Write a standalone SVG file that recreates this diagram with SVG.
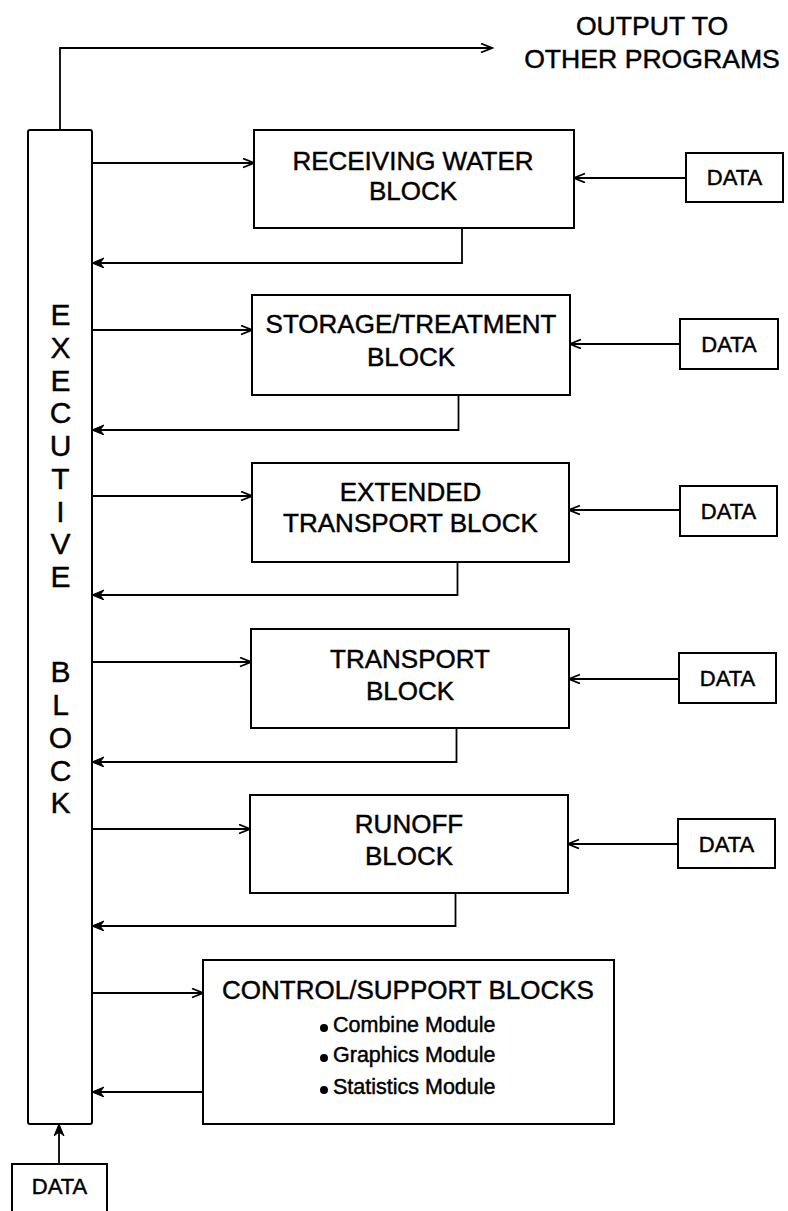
<svg xmlns="http://www.w3.org/2000/svg" width="788" height="1211" viewBox="0 0 788 1211">
<style>
  .box { fill: #fff; stroke: #000; stroke-width: 2; }
  .ln { fill: none; stroke: #000; stroke-width: 1.8; }
  .lbl { font-family: "Liberation Sans", Arial, sans-serif; font-size: 26px; fill: #000; stroke: #000; stroke-width: 0.45; text-anchor: middle; }
  .dat { font-family: "Liberation Sans", Arial, sans-serif; font-size: 22px; fill: #000; stroke: #000; stroke-width: 0.45; text-anchor: middle; }
  .ex { font-family: "Liberation Sans", Arial, sans-serif; font-size: 30px; fill: #000; stroke: #000; stroke-width: 0.4; text-anchor: middle; }
  .mod { font-family: "Liberation Sans", Arial, sans-serif; font-size: 21.5px; fill: #000; stroke: #000; stroke-width: 0.45; }
  .out { font-family: "Liberation Sans", Arial, sans-serif; font-size: 26.6px; fill: #000; stroke: #000; stroke-width: 0.45; text-anchor: middle; }
  .dot { fill: #000; }
</style>
<defs>
  <marker id="open" markerUnits="userSpaceOnUse" markerWidth="14" markerHeight="12" refX="12" refY="5" orient="auto">
    <path d="M1,0.5 L12,5 L1,9.5" fill="none" stroke="#000" stroke-width="1.8"/>
  </marker>
  <marker id="solid" markerUnits="userSpaceOnUse" markerWidth="14" markerHeight="12" refX="12" refY="5" orient="auto">
    <path d="M0,0 L12,5 L0,10 L4,5 Z" fill="#000" stroke="#000" stroke-width="1"/>
  </marker>
</defs>

<g id="connectors">
  <path class="ln" d="M60,130 L60,48 L492,48" marker-end="url(#open)"/>
  <path class="ln" d="M92,163 L254,163" marker-end="url(#open)"/>
  <path class="ln" d="M686,178 L574,178" marker-end="url(#open)"/>
  <path class="ln" d="M462,228 L462,263 L92,263" marker-end="url(#solid)"/>
  <path class="ln" d="M92,330 L252,330" marker-end="url(#open)"/>
  <path class="ln" d="M680,344 L570,344" marker-end="url(#open)"/>
  <path class="ln" d="M458.5,395 L458.5,430 L92,430" marker-end="url(#solid)"/>
  <path class="ln" d="M92,496 L252,496" marker-end="url(#open)"/>
  <path class="ln" d="M680,510 L569,510" marker-end="url(#open)"/>
  <path class="ln" d="M457.5,562 L457.5,595 L92,595" marker-end="url(#solid)"/>
  <path class="ln" d="M92,662 L251,662" marker-end="url(#open)"/>
  <path class="ln" d="M679,679 L569,679" marker-end="url(#open)"/>
  <path class="ln" d="M456.5,728 L456.5,762 L92,762" marker-end="url(#solid)"/>
  <path class="ln" d="M92,829 L250,829" marker-end="url(#open)"/>
  <path class="ln" d="M678,844 L568,844" marker-end="url(#open)"/>
  <path class="ln" d="M455.5,893 L455.5,926 L92,926" marker-end="url(#solid)"/>
  <path class="ln" d="M92,993 L203,993" marker-end="url(#open)"/>
  <path class="ln" d="M203,1092 L92,1092" marker-end="url(#solid)"/>
  <path class="ln" d="M59,1164 L59,1124" marker-end="url(#solid)"/>
</g>

<g id="output-label">
  <text class="out" x="652" y="35">OUTPUT TO</text>
  <text class="out" x="652" y="68">OTHER PROGRAMS</text>
</g>

<g id="executive">
  <rect class="box" x="28" y="130" width="64" height="994" rx="2"/>
  <text class="ex" x="60.5" y="325">E</text>
  <text class="ex" x="60.5" y="358">X</text>
  <text class="ex" x="60.5" y="390.5">E</text>
  <text class="ex" x="60.5" y="423">C</text>
  <text class="ex" x="60.5" y="456">U</text>
  <text class="ex" x="60.5" y="488.5">T</text>
  <text class="ex" x="60.5" y="521.5">I</text>
  <text class="ex" x="60.5" y="554">V</text>
  <text class="ex" x="60.5" y="587">E</text>
  <text class="ex" x="60.5" y="682">B</text>
  <text class="ex" x="60.5" y="715">L</text>
  <text class="ex" x="60.5" y="748">O</text>
  <text class="ex" x="60.5" y="780.5">C</text>
  <text class="ex" x="60.5" y="813">K</text>
</g>

<g id="receiving">
  <rect class="box" x="254" y="130" width="320" height="98"/>
  <text class="lbl" x="413" y="170">RECEIVING WATER</text>
  <text class="lbl" x="413" y="200">BLOCK</text>
</g>
<g id="data1">
  <rect class="box" x="686" y="153" width="97" height="49"/>
  <text class="dat" x="734.5" y="185">DATA</text>
</g>

<g id="storage">
  <rect class="box" x="252" y="295" width="318" height="100"/>
  <text class="lbl" x="411" y="333">STORAGE/TREATMENT</text>
  <text class="lbl" x="411" y="366">BLOCK</text>
</g>
<g id="data2">
  <rect class="box" x="680" y="319" width="98" height="50"/>
  <text class="dat" x="729" y="352">DATA</text>
</g>

<g id="extended">
  <rect class="box" x="252" y="463" width="317" height="99"/>
  <text class="lbl" x="410.5" y="501">EXTENDED</text>
  <text class="lbl" x="410.5" y="532">TRANSPORT BLOCK</text>
</g>
<g id="data3">
  <rect class="box" x="680" y="486" width="97" height="50"/>
  <text class="dat" x="728.5" y="519">DATA</text>
</g>

<g id="transport">
  <rect class="box" x="251" y="629" width="318" height="99"/>
  <text class="lbl" x="410" y="668">TRANSPORT</text>
  <text class="lbl" x="410" y="700">BLOCK</text>
</g>
<g id="data4">
  <rect class="box" x="679" y="653" width="97" height="50"/>
  <text class="dat" x="727.5" y="686">DATA</text>
</g>

<g id="runoff">
  <rect class="box" x="250" y="795" width="318" height="98"/>
  <text class="lbl" x="409" y="833">RUNOFF</text>
  <text class="lbl" x="409" y="865">BLOCK</text>
</g>
<g id="data5">
  <rect class="box" x="678" y="819" width="97" height="49"/>
  <text class="dat" x="726.5" y="852">DATA</text>
</g>

<g id="control">
  <rect class="box" x="203" y="960" width="411" height="164"/>
  <text class="lbl" x="408" y="999">CONTROL/SUPPORT BLOCKS</text>
  <circle class="dot" cx="324" cy="1028" r="4"/>
  <circle class="dot" cx="324" cy="1058" r="4"/>
  <circle class="dot" cx="324" cy="1090" r="4"/>
  <text class="mod" x="333" y="1032">Combine Module</text>
  <text class="mod" x="333" y="1062">Graphics Module</text>
  <text class="mod" x="333" y="1094">Statistics Module</text>
</g>

<g id="data-bottom">
  <rect class="box" x="12" y="1164" width="95" height="60"/>
  <text class="dat" x="59.5" y="1194">DATA</text>
</g>
</svg>
